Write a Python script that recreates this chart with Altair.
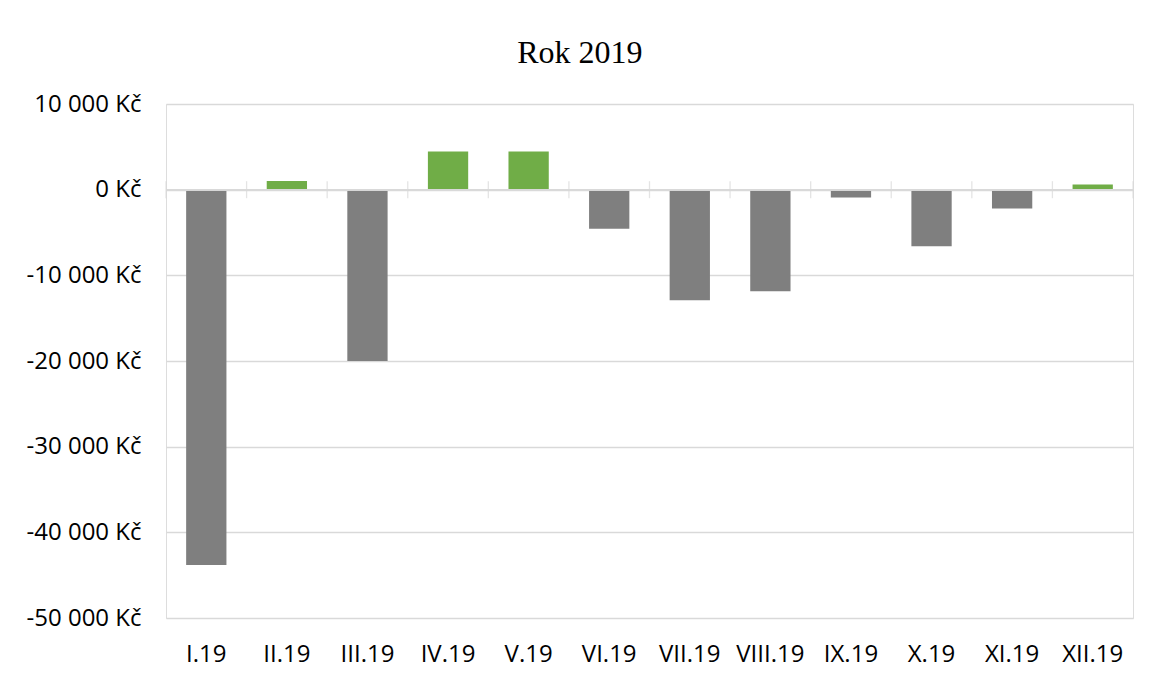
import altair as alt
import pandas as pd

months = ["I.19", "II.19", "III.19", "IV.19", "V.19", "VI.19",
          "VII.19", "VIII.19", "IX.19", "X.19", "XI.19", "XII.19"]
values = [-43800, 1000, -20000, 4450, 4450, -4550,
          -12900, -11850, -900, -6600, -2200, 600]
y_ticks = [10000, 0, -10000, -20000, -30000, -40000, -50000]

df = pd.DataFrame({"month": months, "value": values})

GRID = "#d9d9d9"
xscale = alt.Scale(paddingInner=0, paddingOuter=0)
yscale = alt.Scale(domain=[-50000, 10000], nice=False)

y_label = ("(datum.value < 0 ? '-' : '') + "
           "replace(format(abs(datum.value), ','), ',', ' ') + ' Kč'")

bars = alt.Chart(df).mark_bar(width=alt.RelativeBandSize(0.5)).encode(
    x=alt.X("month:N", sort=months, scale=xscale, title=None,
            axis=alt.Axis(orient="bottom", labelAngle=0, ticks=False, domain=False,
                          bandPosition=0.5,
                          labelFont="Open Sans", labelFontSize=24,
                          labelColor="#000000", labelPadding=24)),
    y=alt.Y("value:Q", scale=yscale, title=None,
            axis=alt.Axis(values=y_ticks,
                          labelExpr=y_label, ticks=False, domain=False,
                          grid=True, gridColor=GRID, gridWidth=1.3,
                          labelFont="Open Sans", labelFontSize=24,
                          labelColor="#000000", labelPadding=25)),
    color=alt.condition(alt.datum.value >= 0, alt.value("#70ad47"), alt.value("#7f7f7f")),
)

zero_line = alt.Chart(df).mark_rule(color=GRID, strokeWidth=1.3).encode(
    y=alt.datum(0)
)

ticks = alt.Chart(df).mark_tick(orient="vertical", size=17, thickness=1.3, color=GRID).encode(
    x=alt.X("month:N", sort=months, bandPosition=0, axis=None),
    y=alt.datum(0),
)

tick_end = alt.Chart(df).transform_filter(
    alt.datum.month == months[-1]
).mark_tick(orient="vertical", size=17, thickness=1.3, color=GRID).encode(
    x=alt.X("month:N", sort=months, bandPosition=1, axis=None),
    y=alt.datum(0),
)

chart = alt.layer(bars, zero_line, ticks, tick_end).resolve_axis(
    x="independent"
).properties(
    width=967,
    height=514,
    title=alt.Title("Rok 2019", font="Liberation Serif", fontSize=32,
                    fontWeight="normal", color="#000000", offset=22,
                    frame="bounds", anchor="middle"),
    padding={"left": 18, "top": 29, "right": 10, "bottom": 5},
).configure_view(
    stroke=GRID, strokeWidth=1.3
).configure(background="white")

chart.save("out.html", embed_options={"renderer": "svg", "actions": False})
